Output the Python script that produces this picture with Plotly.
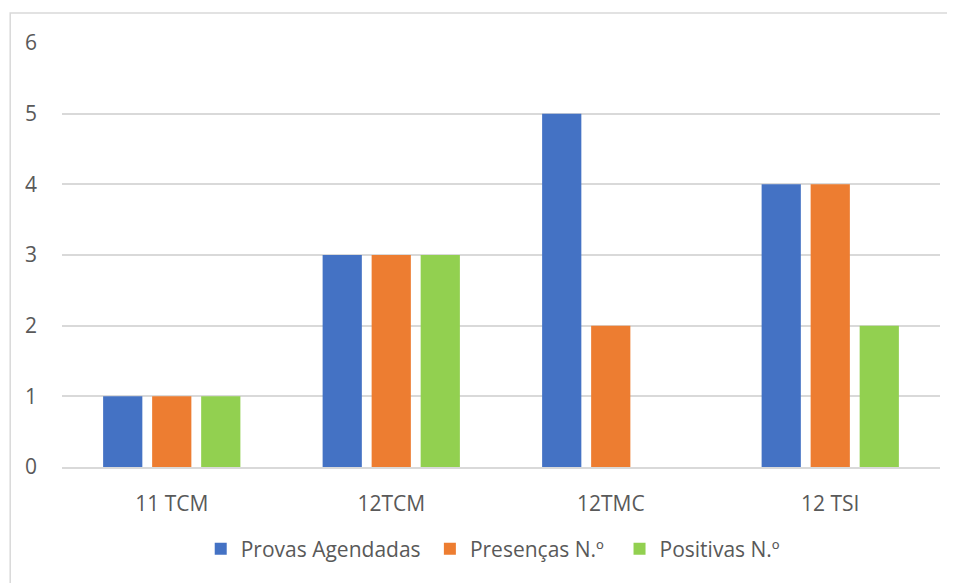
import plotly.graph_objects as go

turmas = ["11 TCM", "12TCM", "12TMC", "12 TSI"]
provas_agendadas = [1, 3, 5, 4]
presencas = [1, 3, 2, 4]
positivas = [1, 3, 0, 2]

series = [
    ("Provas Agendadas", provas_agendadas, "#4472C4"),
    ("Presenças N.º", presencas, "#ED7D31"),
    ("Positivas N.º", positivas, "#92D050"),
]
# posição horizontal (paper) de cada entrada da legenda
legenda_x = [0.158, 0.419, 0.635]

fig = go.Figure()
for i, (nome, valores, cor) in enumerate(series):
    leg = "legend" if i == 0 else f"legend{i + 1}"
    fig.add_trace(go.Bar(x=turmas, y=valores, name=nome, marker_color=cor,
                         marker_line_width=0, legend=leg))

legend_style = dict(orientation="h", xanchor="left", y=-0.145, yanchor="top",
                    font=dict(size=21, color="#595959"), itemwidth=30,
                    bgcolor="rgba(0,0,0,0)")

# a página tem 8px de margem no body, por isso a figura é um pouco menor
fig.update_layout(
    width=947,
    height=575,
    barmode="group",
    bargap=0.33,
    bargroupgap=0.2,
    plot_bgcolor="white",
    paper_bgcolor="white",
    font=dict(family="Open Sans, sans-serif", size=21, color="#595959"),
    margin=dict(l=54, r=15, t=35, b=116),
    showlegend=True,
    legend=dict(x=legenda_x[0], **legend_style),
    legend2=dict(x=legenda_x[1], **legend_style),
    legend3=dict(x=legenda_x[2], **legend_style),
    shapes=[dict(type="rect", xref="paper", yref="paper",
                 x0=-0.059, y0=-0.3, x1=1.1, y1=1.071,
                 line=dict(color="#d9d9d9", width=1.5), layer="below")],
)
fig.update_yaxes(range=[0, 6], dtick=1, showgrid=True, gridcolor="#d9d9d9",
                 gridwidth=1.5, zeroline=False, showline=False,
                 ticks="", ticklabelstandoff=24)
fig.update_xaxes(showline=True, linecolor="#d9d9d9", linewidth=1.5,
                 ticks="", ticklabelstandoff=17)

fig.write_html("out.html")
